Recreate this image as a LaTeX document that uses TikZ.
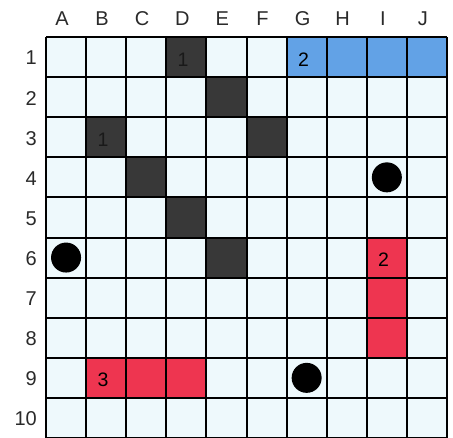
\documentclass[tikz,border=0pt]{standalone}
\usepackage{fontspec}
\setmainfont{Liberation Sans}
\definecolor{cellbg}{HTML}{EEF9FC}
\definecolor{darkcell}{HTML}{383838}
\definecolor{bluecell}{HTML}{62A2E6}
\definecolor{redcell}{HTML}{EE3550}
\definecolor{labelcol}{HTML}{2A2A2A}
\tikzset{
  gridline/.style={line width=2pt, black},
  lbl/.style={font=\fontsize{20}{20}\selectfont, text=labelcol, inner sep=0pt},
  cellnum/.style={font=\fontsize{19.5}{19.5}\selectfont, text=black, inner sep=0pt},
  darknum/.style={font=\fontsize{19.5}{19.5}\selectfont, text=black!90, inner sep=0pt},
  peg/.style={fill=black, draw=none},
}
\begin{document}
\begin{tikzpicture}[x=1pt,y=-1pt]
\useasboundingbox (0,0) rectangle (453,437);
\fill[white] (0,0) rectangle (453,437);
% column labels
\foreach \l [count=\i from 0] in {A,B,C,D,E,F,G,H,I,J}
  \node[lbl] (col\l) at ({46+40.1*\i+16},19) {\l};
% row labels
\foreach \r in {1,...,10}
  \node[lbl, anchor=east] (row\r) at (37,{37+40.1*(\r-1)+21}) {\r};
\begin{scope}[shift={(46pt,-37pt)}, x=40.1pt, y=-40.1pt]
  \fill[cellbg] (0,0) rectangle (10,10);
  % dark cells
  \foreach \c/\r in {3/0,4/1,1/2,5/2,2/3,3/4,4/5}
    \fill[darkcell] (\c,\r) rectangle ++(1,1);
  % blue ship
  \fill[bluecell] (6,0) rectangle (10,1);
  % red ships
  \fill[redcell] (8,5) rectangle (9,8);
  \fill[redcell] (1,8) rectangle (4,9);
  % grid
  \foreach \i in {0,...,10} {
    \draw[gridline] (\i,0) -- (\i,10);
    \draw[gridline] (0,\i) -- (10,\i);
  }
  % numbers
  \node[darknum] (nD1) at (3.42,0.56) {1};
  \node[darknum] (nB3) at (1.42,2.56) {1};
  \node[cellnum] (nG1) at (6.42,0.56) {2};
  \node[cellnum] (nI6) at (8.42,5.56) {2};
  \node[cellnum] (nB9) at (1.42,8.56) {3};
  % pegs
  \fill[peg] (8.5,3.5) circle (15pt);
  \fill[peg] (0.5,5.5) circle (15pt);
  \fill[peg] (6.5,8.5) circle (15pt);
\end{scope}
\end{tikzpicture}
\end{document}
